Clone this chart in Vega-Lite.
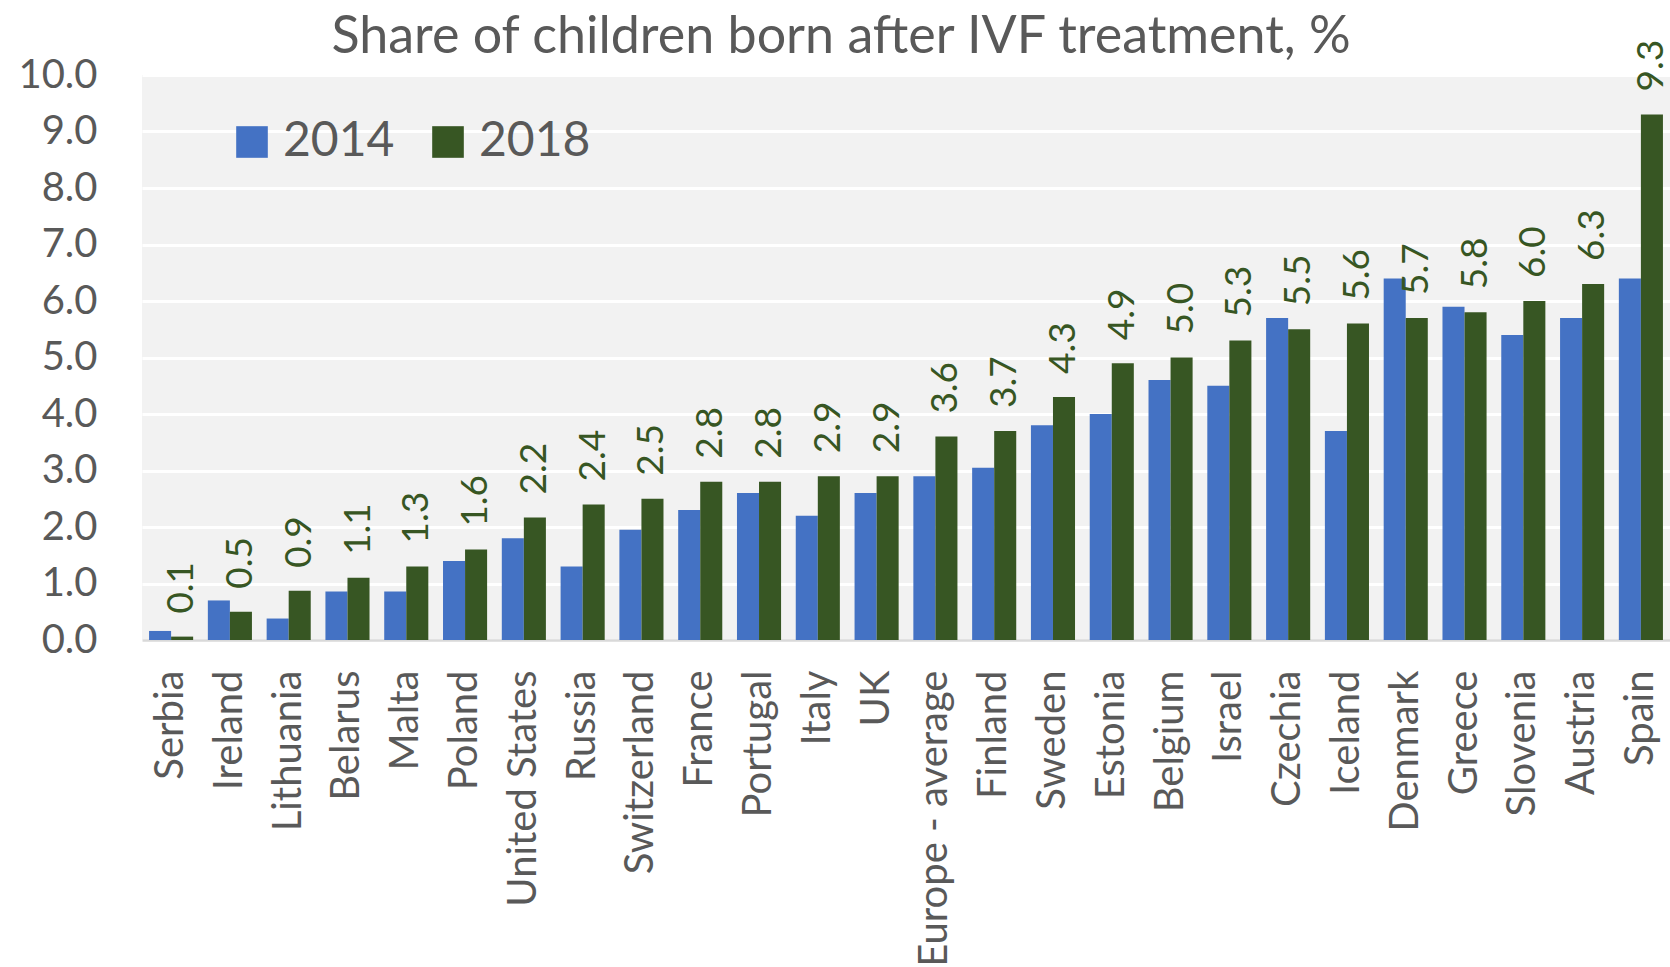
{
  "$schema": "https://vega.github.io/schema/vega-lite/v6.json",
  "width": 1528,
  "height": 565,
  "autosize": {"type": "none"},
  "padding": {"left": 142, "top": 75, "right": 0, "bottom": 327},
  "background": "white",
  "title": {
    "text": "Share of children born after IVF treatment, %",
    "font": "Lato",
    "fontSize": 52,
    "fontWeight": "normal",
    "color": "#595959",
    "anchor": "middle",
    "frame": "group",
    "dx": -65,
    "offset": 14,
    "dy": 38
  },
  "config": {
    "view": {"fill": "#F2F2F2", "stroke": null},
    "font": "Lato"
  },
  "data": {
    "values": [
      {"country": "Serbia", "year": "2014", "value": 0.16},
      {"country": "Serbia", "year": "2018", "value": 0.06},
      {"country": "Ireland", "year": "2014", "value": 0.7},
      {"country": "Ireland", "year": "2018", "value": 0.5},
      {"country": "Lithuania", "year": "2014", "value": 0.38},
      {"country": "Lithuania", "year": "2018", "value": 0.87},
      {"country": "Belarus", "year": "2014", "value": 0.86},
      {"country": "Belarus", "year": "2018", "value": 1.1},
      {"country": "Malta", "year": "2014", "value": 0.86},
      {"country": "Malta", "year": "2018", "value": 1.3},
      {"country": "Poland", "year": "2014", "value": 1.4},
      {"country": "Poland", "year": "2018", "value": 1.6},
      {"country": "United States", "year": "2014", "value": 1.8},
      {"country": "United States", "year": "2018", "value": 2.17},
      {"country": "Russia", "year": "2014", "value": 1.3},
      {"country": "Russia", "year": "2018", "value": 2.4},
      {"country": "Switzerland", "year": "2014", "value": 1.95},
      {"country": "Switzerland", "year": "2018", "value": 2.5},
      {"country": "France", "year": "2014", "value": 2.3},
      {"country": "France", "year": "2018", "value": 2.8},
      {"country": "Portugal", "year": "2014", "value": 2.6},
      {"country": "Portugal", "year": "2018", "value": 2.8},
      {"country": "Italy", "year": "2014", "value": 2.2},
      {"country": "Italy", "year": "2018", "value": 2.9},
      {"country": "UK", "year": "2014", "value": 2.6},
      {"country": "UK", "year": "2018", "value": 2.9},
      {"country": "Europe - average", "year": "2014", "value": 2.9},
      {"country": "Europe - average", "year": "2018", "value": 3.6},
      {"country": "Finland", "year": "2014", "value": 3.05},
      {"country": "Finland", "year": "2018", "value": 3.7},
      {"country": "Sweden", "year": "2014", "value": 3.8},
      {"country": "Sweden", "year": "2018", "value": 4.3},
      {"country": "Estonia", "year": "2014", "value": 4.0},
      {"country": "Estonia", "year": "2018", "value": 4.9},
      {"country": "Belgium", "year": "2014", "value": 4.6},
      {"country": "Belgium", "year": "2018", "value": 5.0},
      {"country": "Israel", "year": "2014", "value": 4.5},
      {"country": "Israel", "year": "2018", "value": 5.3},
      {"country": "Czechia", "year": "2014", "value": 5.7},
      {"country": "Czechia", "year": "2018", "value": 5.5},
      {"country": "Iceland", "year": "2014", "value": 3.7},
      {"country": "Iceland", "year": "2018", "value": 5.6},
      {"country": "Denmark", "year": "2014", "value": 6.4},
      {"country": "Denmark", "year": "2018", "value": 5.7},
      {"country": "Greece", "year": "2014", "value": 5.9},
      {"country": "Greece", "year": "2018", "value": 5.8},
      {"country": "Slovenia", "year": "2014", "value": 5.4},
      {"country": "Slovenia", "year": "2018", "value": 6.0},
      {"country": "Austria", "year": "2014", "value": 5.7},
      {"country": "Austria", "year": "2018", "value": 6.3},
      {"country": "Spain", "year": "2014", "value": 6.4},
      {"country": "Spain", "year": "2018", "value": 9.3}
    ]
  },
  "encoding": {
    "x": {
      "field": "country",
      "type": "nominal",
      "sort": null,
      "scale": {"paddingInner": 0.25, "paddingOuter": 0.12},
      "axis": {
        "title": null,
        "labelAngle": -90,
        "labelFont": "Lato",
        "labelFontSize": 40,
        "labelColor": "#595959",
        "labelPadding": 30,
        "ticks": false,
        "grid": false,
        "domainColor": "#D9D9D9",
        "domainWidth": 2.5,
        "labelLimit": 400
      }
    },
    "xOffset": {"field": "year", "type": "nominal", "scale": {"paddingInner": 0}},
    "y": {
      "field": "value",
      "type": "quantitative",
      "scale": {"domain": [0, 10], "nice": false},
      "axis": {
        "title": null,
        "values": [0, 1, 2, 3, 4, 5, 6, 7, 8, 9, 10],
        "format": ".1f",
        "labelFont": "Lato",
        "labelFontSize": 40,
        "labelColor": "#595959",
        "labelPadding": 45,
        "ticks": false,
        "domain": false,
        "grid": true,
        "gridColor": "white",
        "gridWidth": 3
      }
    }
  },
  "layer": [
    {
      "mark": {"type": "bar"},
      "encoding": {
        "color": {
          "field": "year",
          "type": "nominal",
          "scale": {"domain": ["2014", "2018"], "range": ["#4472C4", "#375623"]},
          "legend": {
            "title": null,
            "orient": "none",
            "legendX": 86,
            "legendY": 43,
            "direction": "horizontal",
            "symbolType": "square",
            "symbolSize": 1000,
            "symbolStrokeWidth": 0,
            "labelFont": "Lato",
            "labelFontSize": 48,
            "labelColor": "#595959",
            "labelOffset": 7,
            "columnPadding": 29,
            "padding": 0
          }
        }
      }
    },
    {
      "transform": [{"filter": "datum.year == '2018'"}],
      "mark": {
        "type": "text",
        "angle": -90,
        "align": "left",
        "baseline": "middle",
        "dx": 23,
        "font": "Lato",
        "fontSize": 37,
        "color": "#375623"
      },
      "encoding": {
        "text": {"field": "value", "type": "quantitative", "format": ".1f"}
      }
    }
  ]
}
